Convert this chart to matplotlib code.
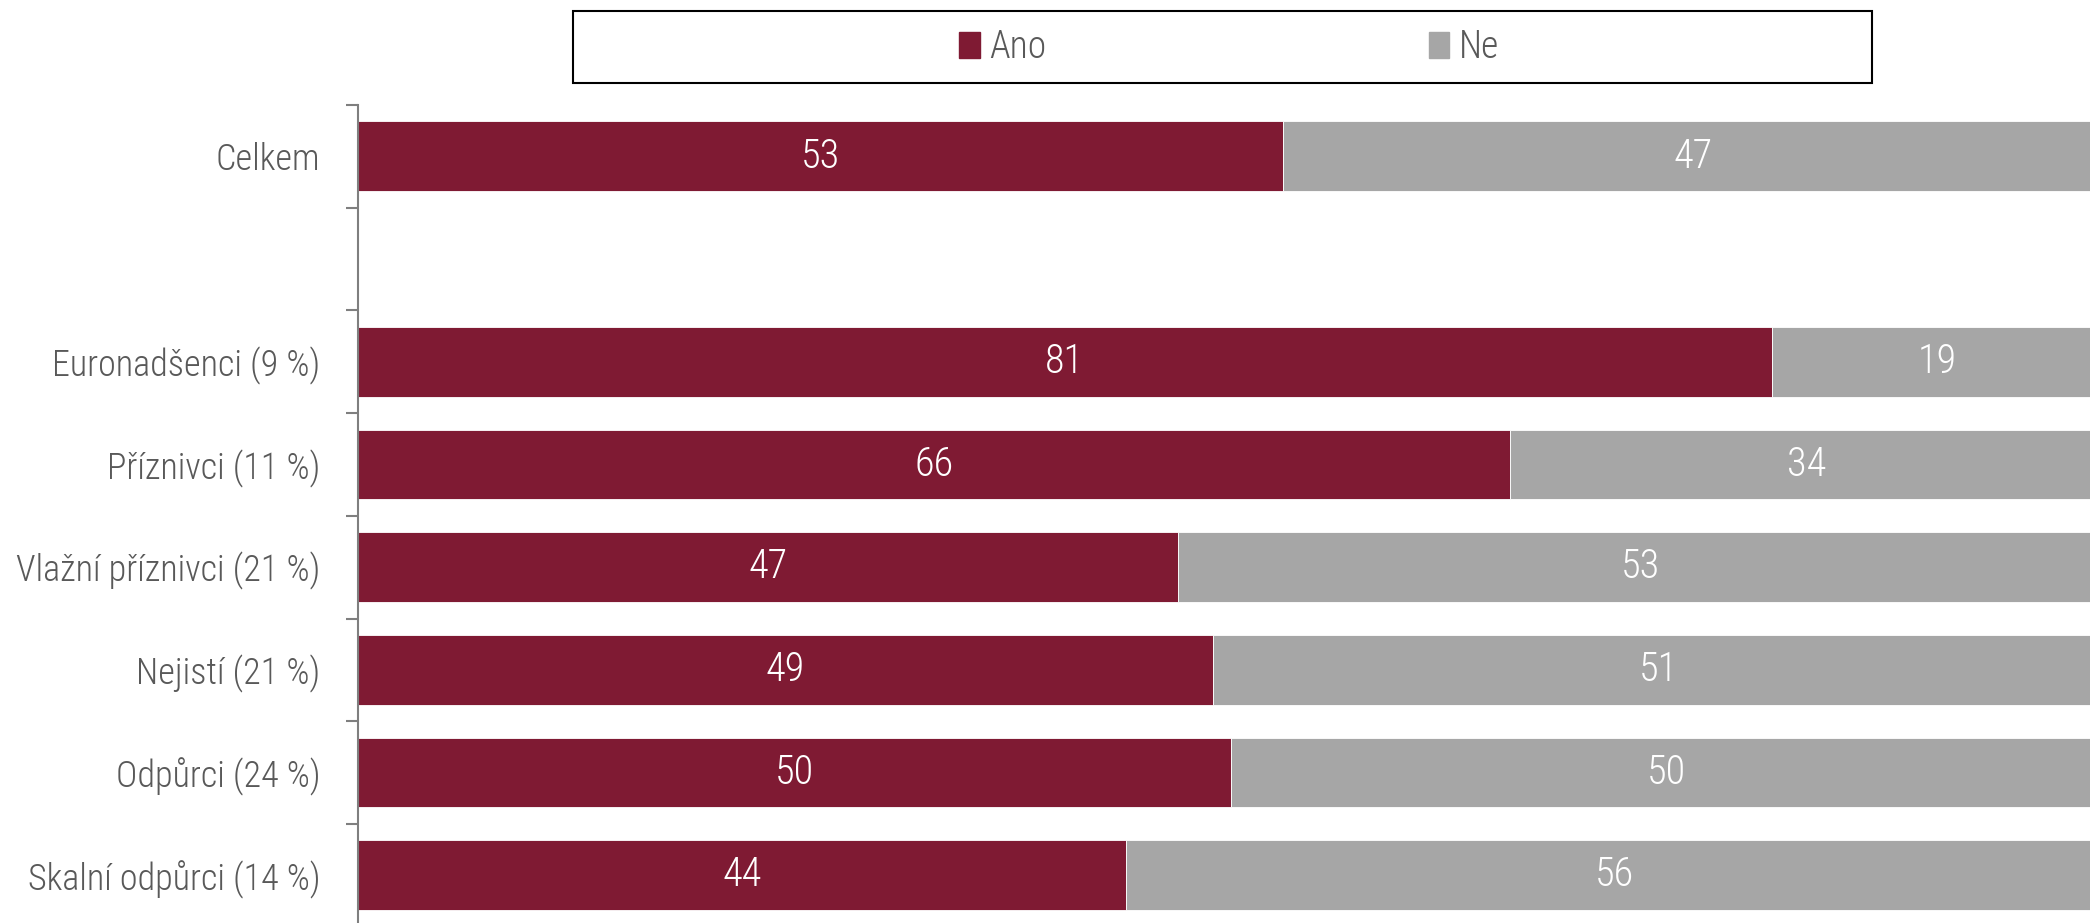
import matplotlib
matplotlib.use('Agg')
import matplotlib.pyplot as plt
from matplotlib import font_manager
from matplotlib.patches import Rectangle, Patch
import numpy as np

# pick a narrow font if there is one
names = {f.name for f in font_manager.fontManager.ttflist}
font = 'DejaVu Sans'
for fam in ['Roboto Condensed', 'Liberation Sans Narrow', 'Roboto']:
    if fam in names:
        font = fam
        break
plt.rcParams['font.family'] = [font, 'DejaVu Sans']

# data
categories = ['Celkem', '', 'Euronadšenci (9 %)', 'Příznivci (11 %)',
              'Vlažní příznivci (21 %)', 'Nejistí (21 %)', 'Odpůrci (24 %)',
              'Skalní odpůrci (14 %)']
ano = [53, np.nan, 81, 66, 47, 49, 50, 44]
ne = [47, np.nan, 19, 34, 53, 51, 50, 56]
series_names = ['Ano', 'Ne']

red = '#7f1a33'
grey = '#a6a6a6'
text_grey = '#595959'

W, H = 2090, 923
row_px = 102.7  # height of one category row
fig = plt.figure(figsize=(W / 100, H / 100), dpi=100)
ax = fig.add_axes([358 / W, 0, 1 - 358 / W, (H - 105) / H])

y = np.arange(len(categories))
ano = np.array(ano, dtype=float)
ne = np.array(ne, dtype=float)
ax.barh(y, ano, height=0.68, color=red, edgecolor='white', linewidth=0.6)
ax.barh(y, ne, left=ano, height=0.68, color=grey, edgecolor='white', linewidth=0.6)

for i in range(len(categories)):
    if np.isnan(ano[i]):
        continue
    ax.text(ano[i] / 2, i, f'{ano[i]:.0f}', ha='center', va='center',
            color='white', fontsize=29, fontweight='light')
    ax.text(ano[i] + ne[i] / 2, i, f'{ne[i]:.0f}', ha='center', va='center',
            color='white', fontsize=29, fontweight='light')

# the chart is cut off slightly on the right and at the bottom
ax.set_xlim(0, 99.25)
ax.set_ylim(-0.5 + (H - 105) / row_px, -0.5)
ax.set_xticks([])
ax.set_yticks(y, categories)
ax.set_yticks(np.arange(-0.5, len(categories) - 1, 1), minor=True)
ax.tick_params(axis='y', which='major', length=0, pad=27, labelsize=26,
               labelcolor=text_grey)
ax.tick_params(axis='y', which='minor', length=9, width=1.5, color='#7f7f7f')
for s in ['top', 'right', 'bottom']:
    ax.spines[s].set_visible(False)
ax.spines['left'].set_color('#7f7f7f')
ax.spines['left'].set_linewidth(1.5)
for lbl in ax.get_yticklabels():
    lbl.set_fontweight('light')

# legend with a plain box around it
handles = [Patch(color=red), Patch(color=grey)]
leg = fig.legend(handles, series_names, loc='center', bbox_to_anchor=(0.588, 0.949),
                 ncol=2, frameon=False, handlelength=0.55, handleheight=0.7,
                 handletextpad=0.25, columnspacing=10.2, fontsize=27)
for t in leg.get_texts():
    t.set_color(text_grey)
    t.set_fontweight('light')
fig.add_artist(Rectangle((573 / W, 1 - 83 / H), 1299 / W, 72 / H,
                         transform=fig.transFigure, fill=False,
                         edgecolor='black', linewidth=1.5))

fig.savefig('out.png', dpi=100)
